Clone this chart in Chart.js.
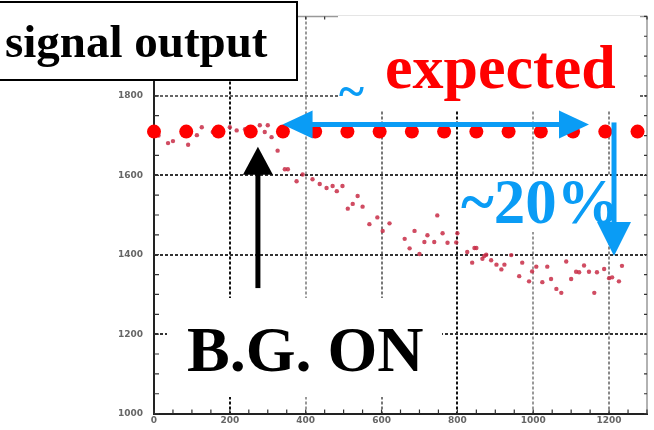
<!DOCTYPE html>
<html>
<head>
<meta charset="utf-8">
<script src="https://cdn.jsdelivr.net/npm/chart.js@4.4.0/dist/chart.umd.min.js"></script>
<style>
  html, body { margin: 0; padding: 0; background: #fff; }
  #contenedor { width: 654px; height: 430px; }
</style>
</head>
<body>
<div id="contenedor"><canvas id="grafico" width="654" height="430"></canvas></div>
<script>
// Medidas de la salida de la señal (x: tiempo, y: salida)
let tiempos = [
  12, 37, 50, 90, 113, 126, 155, 175, 200, 218, 240, 262, 279, 292, 300, 310, 326,
  345, 353, 376, 392, 418, 437, 455, 471, 482, 497, 511, 524, 537, 550, 568, 589, 603,
  621, 661, 674, 687, 700, 713, 721, 739, 747, 761, 774, 797, 800, 826, 839, 845, 850,
  866, 871, 876, 889, 903, 916, 924, 942, 963, 971, 989, 997, 1008, 1024, 1037, 1047,
  1061, 1074, 1087, 1100, 1113, 1121, 1134, 1147, 1161, 1168, 1187, 1200, 1208, 1226, 1234
];
let salidas = [
  1700, 1681, 1686, 1677, 1701, 1721, 1709, 1714, 1721, 1713, 1716, 1712, 1726, 1709, 1726, 1696, 1662,
  1615, 1615, 1585, 1602, 1590, 1578, 1568, 1573, 1560, 1573, 1516, 1528, 1548, 1521, 1477, 1494, 1460,
  1479, 1440, 1416, 1460, 1402, 1432, 1449, 1432, 1499, 1454, 1430, 1431, 1454, 1407, 1380, 1417, 1417,
  1390, 1397, 1400, 1386, 1375, 1363, 1375, 1399, 1346, 1380, 1333, 1358, 1370, 1331, 1370, 1339,
  1314, 1304, 1383, 1339, 1357, 1356, 1373, 1357, 1304, 1356, 1364, 1341, 1343, 1333, 1372
];

// Nivel esperado (puntos rojos grandes)
let esperadoX = [0, 85, 170, 255, 340, 425, 510, 595, 680, 765, 850, 935, 1020, 1105, 1190, 1275];
let esperadoY = 1710;

// Etiquetas de los ejes
let etiquetasX = [0, 200, 400, 600, 800, 1000, 1200];
let etiquetasY = [1000, 1200, 1400, 1600, 1800];

// Flechas en unidades de datos
let flechaBG = { x: 274, desde: 1316, hasta: 1672 };
let flechaAzulH = { y: 1728, desde: 339, hasta: 1147 };
let flechaAzulV = { x: 1213, desde: 1733, hasta: 1397 };

let colorRejillaX = { 200: '#111', 400: '#999', 600: '#777', 800: '#111', 1000: '#999', 1200: '#888' };
let colorRejillaY = { 1200: '#333', 1400: '#333', 1600: '#333', 1800: '#666' };

const AZUL = '#0a9cf5';

function flecha(ctx, x0, y0, x1, y1, largo, mitad, grosor, color, doble) {
  let ang = Math.atan2(y1 - y0, x1 - x0);
  let dx = Math.cos(ang), dy = Math.sin(ang);
  ctx.save();
  ctx.strokeStyle = color;
  ctx.fillStyle = color;
  ctx.lineWidth = grosor;
  ctx.beginPath();
  ctx.moveTo(x0 + (doble ? dx * largo * 0.8 : 0), y0 + (doble ? dy * largo * 0.8 : 0));
  ctx.lineTo(x1 - dx * largo * 0.8, y1 - dy * largo * 0.8);
  ctx.stroke();
  let punta = (px, py, ux, uy) => {
    ctx.beginPath();
    ctx.moveTo(px, py);
    ctx.lineTo(px - ux * largo - uy * mitad, py - uy * largo + ux * mitad);
    ctx.lineTo(px - ux * largo + uy * mitad, py - uy * largo - ux * mitad);
    ctx.closePath();
    ctx.fill();
  };
  punta(x1, y1, dx, dy);
  if (doble) punta(x0, y0, -dx, -dy);
  ctx.restore();
}

const anotaciones = {
  id: 'anotaciones',
  beforeDatasetsDraw(chart) {
    let { ctx, chartArea: a, scales: { x, y } } = chart;
    ctx.save();
    // marco superior y derecho
    ctx.strokeStyle = '#999';
    ctx.lineWidth = 1.5;
    ctx.beginPath();
    ctx.moveTo(a.left, a.top);
    ctx.lineTo(a.right, a.top);
    ctx.lineTo(a.right, a.bottom);
    ctx.stroke();
    // marcas pequeñas hacia dentro
    ctx.strokeStyle = '#333';
    ctx.lineWidth = 1.2;
    x.ticks.forEach(t => {
      let px = x.getPixelForValue(t.value);
      ctx.beginPath();
      ctx.moveTo(px, a.bottom); ctx.lineTo(px, a.bottom - 4);
      ctx.moveTo(px, a.top); ctx.lineTo(px, a.top + 3);
      ctx.stroke();
    });
    y.ticks.forEach(t => {
      let py = y.getPixelForValue(t.value);
      ctx.beginPath();
      ctx.moveTo(a.left, py); ctx.lineTo(a.left + 5, py);
      ctx.moveTo(a.right, py); ctx.lineTo(a.right - 3, py);
      ctx.stroke();
    });
    // fondos blancos de los textos
    ctx.fillStyle = '#fff';
    ctx.fillRect(338, 16, 302, 94);
    ctx.fillRect(460, 176, 150, 56);
    ctx.fillRect(167, 298, 275, 99);
    // recuadro del título
    ctx.fillRect(0, 2, 298, 78);
    ctx.strokeStyle = '#000';
    ctx.lineWidth = 2;
    ctx.strokeRect(-2, 2, 299, 78);
    ctx.restore();
  },
  afterDraw(chart) {
    let { ctx, scales: { x, y } } = chart;
    ctx.save();
    ctx.textBaseline = 'alphabetic';
    ctx.textAlign = 'left';

    ctx.fillStyle = '#000';
    ctx.font = 'bold 47px "Liberation Serif"';
    ctx.fillText('signal output', 5, 57);

    ctx.fillStyle = '#ff0000';
    ctx.font = 'bold 62px "Liberation Serif"';
    ctx.fillText('expected', 385, 88);

    ctx.fillStyle = AZUL;
    ctx.font = 'bold 48px "Liberation Serif"';
    ctx.fillText('~', 339, 107);

    ctx.font = 'bold 63px "Liberation Serif"';
    ctx.fillText('~20%', 461, 223);

    ctx.fillStyle = '#000';
    ctx.font = 'bold 64px "Liberation Serif"';
    ctx.fillText('B.G. ON', 187, 371);

    // flecha negra hacia el encendido
    let bx = x.getPixelForValue(flechaBG.x);
    flecha(ctx, bx, y.getPixelForValue(flechaBG.desde), bx, y.getPixelForValue(flechaBG.hasta), 28, 15, 5, '#000', false);

    // flecha azul horizontal de doble punta
    let hy = y.getPixelForValue(flechaAzulH.y);
    flecha(ctx, x.getPixelForValue(flechaAzulH.desde), hy, x.getPixelForValue(flechaAzulH.hasta), hy, 30, 14, 5, AZUL, true);

    // flecha azul vertical (caída ~20%)
    let vx = x.getPixelForValue(flechaAzulV.x);
    flecha(ctx, vx, y.getPixelForValue(flechaAzulV.desde), vx, y.getPixelForValue(flechaAzulV.hasta), 34, 17, 5, AZUL, false);
    ctx.restore();
  }
};

let puntos = tiempos.map((t, i) => ({ x: t, y: salidas[i] }));
let esperado = esperadoX.map(v => ({ x: v, y: esperadoY }));

let grafico = document.getElementById('grafico').getContext('2d');

let diagrama = new Chart(grafico, {
  type: 'scatter',
  data: {
    datasets: [
      {
        label: 'expected',
        data: esperado,
        pointRadius: 7,
        pointBackgroundColor: '#ff0000',
        pointBorderWidth: 0,
        clip: false
      },
      {
        label: 'signal output',
        data: puntos,
        pointRadius: 2.2,
        pointBackgroundColor: 'rgba(200, 45, 70, 0.85)',
        pointBorderWidth: 0
      }
    ]
  },
  options: {
    responsive: false,
    animation: false,
    devicePixelRatio: 1,
    layout: { padding: { top: 12, right: 6, left: 0, bottom: 0 } },
    plugins: { legend: { display: false }, tooltip: { enabled: false } },
    scales: {
      x: {
        min: 0,
        max: 1300,
        afterFit: s => { s.height = 13; },
        ticks: {
          stepSize: 50,
          autoSkip: false,
          maxRotation: 0,
          padding: 2,
          color: '#666',
          font: { family: 'DejaVu Sans', size: 9, weight: 'bold' },
          callback: v => etiquetasX.includes(v) ? String(v) : ''
        },
        grid: {
          drawTicks: false,
          lineWidth: 2,
          color: c => (c.tick && colorRejillaX[c.tick.value]) || 'rgba(0,0,0,0)'
        },
        border: { display: true, color: '#222', width: 2, dash: [3, 2] }
      },
      y: {
        min: 1000,
        max: 2000,
        afterFit: s => { s.width = 154; },
        ticks: {
          stepSize: 50,
          autoSkip: false,
          padding: 11,
          color: '#666',
          font: { family: 'DejaVu Sans', size: 9, weight: 'bold' },
          callback: v => etiquetasY.includes(v) ? String(v) : ''
        },
        grid: {
          drawTicks: false,
          lineWidth: 2,
          color: c => (c.tick && colorRejillaY[c.tick.value]) || 'rgba(0,0,0,0)'
        },
        border: { display: true, color: '#222', width: 2, dash: [3, 2] }
      }
    }
  },
  plugins: [anotaciones]
});
</script>
</body>
</html>
